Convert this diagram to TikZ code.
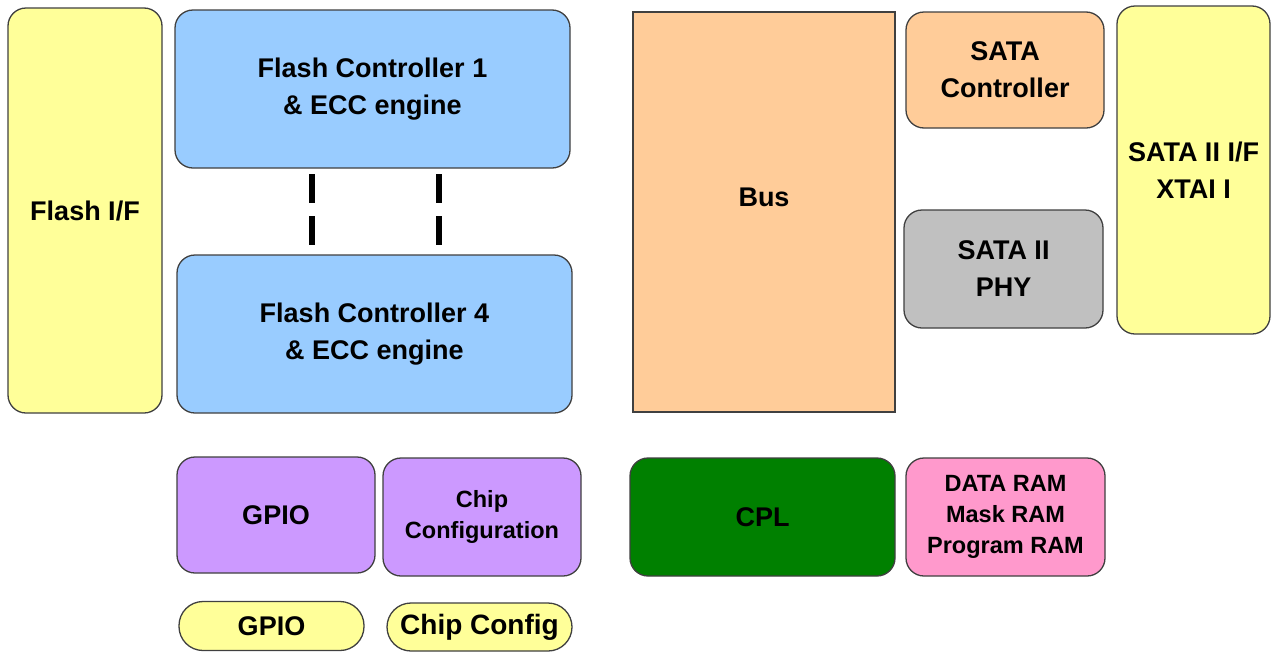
\documentclass[tikz,border=0pt]{standalone}
\usepackage{fontspec}
\setmainfont{Liberation Sans}
\begin{document}
\begin{tikzpicture}[x=1pt,y=-1pt,
  box/.style={draw=black!75, line width=1.3pt, rounded corners=18pt, inner sep=0pt, align=center,
    font=\bfseries\fontsize{27}{37}\selectfont},
  smallbox/.style={box, font=\bfseries\fontsize{23.5}{31}\selectfont},
  pill/.style={box, rounded corners=24pt, fill=cyellow},
  dashline/.style={line width=6pt, dash pattern=on 29pt off 13pt}]
\definecolor{cyellow}{HTML}{FFFF99}
\definecolor{cblue}{HTML}{99CCFF}
\definecolor{corange}{HTML}{FFCC99}
\definecolor{cgray}{HTML}{C0C0C0}
\definecolor{cpurple}{HTML}{CC99FF}
\definecolor{cgreen}{HTML}{008000}
\definecolor{cpink}{HTML}{FF99CC}
\useasboundingbox (0,0) rectangle (1273,651);
\fill[white] (0,0) rectangle (1273,651);
% left column
\node[box, fill=cyellow, minimum width=154pt, minimum height=405pt] (flashif) at (85,210.5) {Flash I/F};
\node[box, fill=cblue, minimum width=395pt, minimum height=158pt] (fc1) at (372.5,89) {Flash Controller 1\\\& ECC engine};
\node[box, fill=cblue, minimum width=395pt, minimum height=158pt] (fc4) at (374.5,334) {Flash Controller 4\\\& ECC engine};
\coordinate (d1a) at (312,174); \coordinate (d1b) at (312,245);
\coordinate (d2a) at (439,174); \coordinate (d2b) at (439,245);
\draw[dashline] (d1a) -- (d1b);
\draw[dashline] (d2a) -- (d2b);
% right part
\node[box, rounded corners=0pt, fill=corange, minimum width=262pt, minimum height=400pt] (bus) at (764,212) {};
\node[font=\bfseries\fontsize{27}{37}\selectfont, inner sep=0pt] (buslabel) at (764,197) {Bus};
\node[box, fill=corange, minimum width=198pt, minimum height=116pt] (satactl) at (1005,70) {SATA\\Controller};
\node[box, fill=cgray, minimum width=199pt, minimum height=118pt] (phy) at (1003.5,269) {SATA II\\PHY};
\node[box, fill=cyellow, minimum width=153pt, minimum height=328pt] (sataif) at (1193.5,170) {SATA II I/F\\XTAI I};
% bottom row
\node[box, fill=cpurple, minimum width=198pt, minimum height=116pt] (gpio) at (276,515) {GPIO};
\node[smallbox, fill=cpurple, minimum width=198pt, minimum height=118pt] (chipcfg) at (482,517) {Chip\\Configuration};
\node[box, fill=cgreen, minimum width=265pt, minimum height=118pt] (cpl) at (762.5,517) {CPL};
\node[smallbox, fill=cpink, minimum width=199pt, minimum height=118pt] (ram) at (1005.5,517) {DATA RAM\\Mask RAM\\Program RAM};
% pills
\node[pill, minimum width=185pt, minimum height=49pt] (gpiopill) at (271.5,626) {GPIO};
\node[pill, minimum width=185pt, minimum height=48pt, font=\bfseries\fontsize{28}{34}\selectfont] (cfgpill) at (479.5,627) {Chip Config};
\end{tikzpicture}
\end{document}
